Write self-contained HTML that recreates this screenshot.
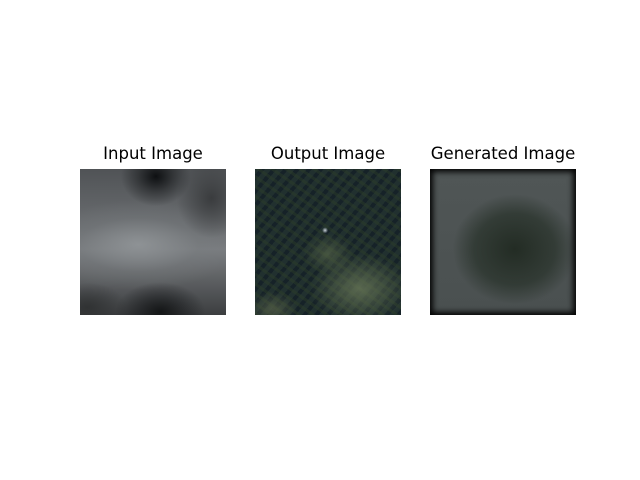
<!DOCTYPE html>
<html><head><meta charset="utf-8"><style>
body{margin:0;background:#fff;width:640px;height:480px;position:relative;overflow:hidden;font-family:"DejaVu Sans","Liberation Sans",sans-serif}
.t{position:absolute;top:144px;width:200px;text-align:center;font-size:16.5px;color:#000}
.im{position:absolute;top:169px;width:146px;height:146px}
</style></head><body>
<div class="t" style="left:53px">Input Image</div>
<div class="t" style="left:228px">Output Image</div>
<div class="t" style="left:403px">Generated Image</div>
<div class="im" style="left:80px;background:
radial-gradient(ellipse 35px 30px at 52% 5%,#0e1012,rgba(20,22,24,0.5) 50%,transparent),
radial-gradient(ellipse 45px 30px at 55% 98%,#141617,rgba(20,22,24,0.5) 50%,transparent),
radial-gradient(ellipse 40px 25px at 5% 95%,#303233,transparent),
radial-gradient(ellipse 35px 40px at 90% 20%,#3a3c3e,transparent),
radial-gradient(ellipse 100px 45px at 40% 52%,#8e9295,rgba(120,124,127,0.4) 60%,transparent),
linear-gradient(#505356,#6a6d70 40%,#7a7d80 55%,#3c3e40)"></div>
<div class="im" style="left:255px;background:
radial-gradient(circle 3px at 48% 42%,#c8d0d8,transparent),
radial-gradient(ellipse 50px 35px at 72% 82%,rgba(100,115,85,0.85),transparent),
radial-gradient(ellipse 25px 20px at 50% 58%,rgba(85,100,72,0.7),transparent),
radial-gradient(ellipse 25px 18px at 12% 96%,rgba(90,100,75,0.7),transparent),
repeating-linear-gradient(35deg,rgba(45,62,40,0.45) 0 3px,transparent 3px 8px),
repeating-linear-gradient(-50deg,rgba(15,25,35,0.6) 0 4px,transparent 4px 9px),
#21302f"></div>
<div class="im" style="left:430px;box-shadow:inset 0 0 6px 3px #050505;background:
radial-gradient(ellipse 62px 55px at 58% 55%,#232c24,rgba(40,50,42,0.7) 65%,transparent),
linear-gradient(#505656,#4a5050);"></div>
</body></html>
